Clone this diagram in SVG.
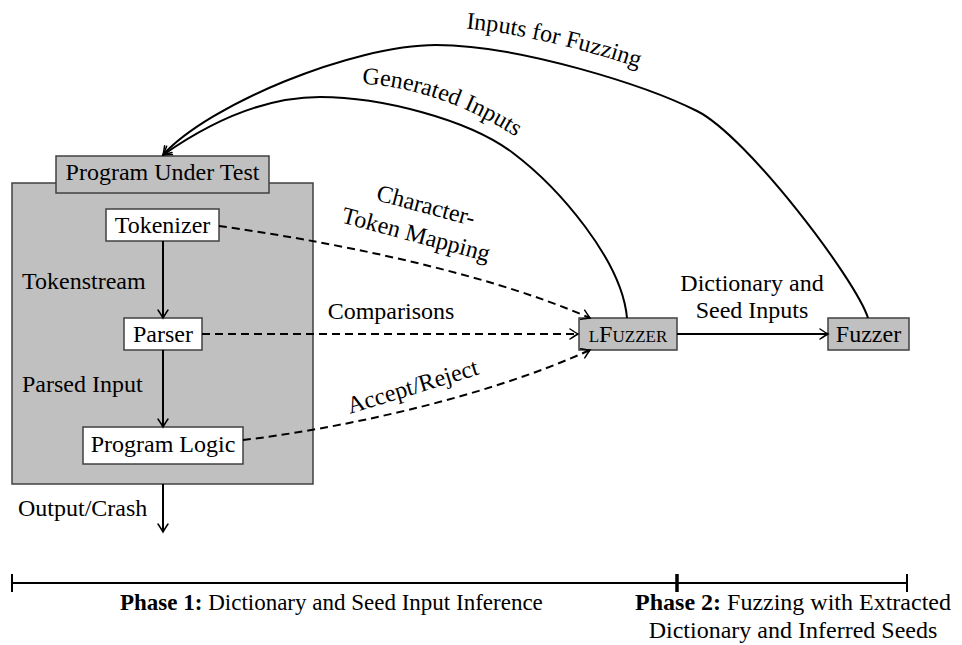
<svg xmlns="http://www.w3.org/2000/svg" width="962" height="645" viewBox="0 0 962 645">
<defs>
<marker id="arr" markerUnits="userSpaceOnUse" viewBox="-10 -7 12 14" refX="0" refY="0" markerWidth="12" markerHeight="14" orient="auto">
<path d="M-8,-5 Q-2,-1 0,0 Q-2,1 -8,5" fill="none" stroke="#000" stroke-width="1.5" stroke-linecap="round"/>
</marker>
<path id="lblGen" d="M 362,84 C 415,86 475,108 525,143"/>
<path id="lblFuzz" d="M 436,27 C 520,27 655,68 706,95"/>
</defs>
<style>
text { font-family: "Liberation Serif", "Times New Roman", serif; font-size: 24px; fill: #000; }
.box { stroke: #404040; stroke-width: 1.5; }
.gray { fill: #c0c0c0; }
.white { fill: #ffffff; }
.edge { fill: none; stroke: #000; stroke-width: 2; }
.dash { stroke-dasharray: 8 5; }
.mid { text-anchor: middle; }
.small { font-size: 23px; }
</style>
<rect width="962" height="645" fill="#ffffff"/>

<g id="program-under-test-container">
<rect class="box gray" x="12" y="183" width="301" height="301"/>
</g>
<g id="program-under-test">
<rect class="box gray" x="56" y="156" width="213" height="37"/>
<text class="mid" x="162.5" y="180">Program Under Test</text>
</g>
<g id="tokenizer">
<rect class="box white" x="106" y="209" width="113" height="32"/>
<text class="mid" x="162.5" y="233">Tokenizer</text>
</g>
<g id="parser">
<rect class="box white" x="124" y="318" width="78" height="32"/>
<text class="mid" x="163" y="342">Parser</text>
</g>
<g id="program-logic">
<rect class="box white" x="83" y="427" width="160" height="37"/>
<text class="mid" x="163" y="452">Program Logic</text>
</g>
<g id="lfuzzer">
<rect class="box gray" x="579" y="318" width="98" height="32"/>
<text class="mid" x="628" y="342" font-variant="small-caps">lFuzzer</text>
</g>
<g id="fuzzer">
<rect class="box gray" x="828" y="318" width="81" height="32"/>
<text class="mid" x="868.5" y="342">Fuzzer</text>
</g>

<g id="connectors">
<path class="edge" marker-end="url(#arr)" d="M163,241 L163,318"/>
<path class="edge" marker-end="url(#arr)" d="M163,350 L163,427"/>
<path class="edge" marker-end="url(#arr)" d="M163,484 L163,532"/>
<path class="edge dash" marker-end="url(#arr)" d="M219,226 C320,240 480,270 590,318"/>
<path class="edge dash" marker-end="url(#arr)" d="M202,334 L578,334"/>
<path class="edge dash" marker-end="url(#arr)" d="M243,440 C330,430 480,400 590,350"/>
<path class="edge" marker-end="url(#arr)" d="M677,334 L828,334"/>
<path class="edge" marker-end="url(#arr)" d="M627,318 C622,260 558,187 513,153 S380,97 320,97 S203,127 163,155"/>
<path class="edge" marker-end="url(#arr)" d="M868,318 C856,280 747,136 697,111 S520,45 436,45 S208,105 163,155"/>
</g>

<g id="labels">
<text x="22" y="289">Tokenstream</text>
<text x="22" y="392">Parsed Input</text>
<text x="18" y="516">Output/Crash</text>
<text class="mid" x="391" y="319">Comparisons</text>
<text class="mid" transform="translate(424,213) rotate(15)">Character-</text>
<text class="mid" transform="translate(414,242) rotate(15)">Token Mapping</text>
<text class="mid" transform="translate(415,394) rotate(-17)">Accept/Reject</text>
<text class="mid" x="752" y="291">Dictionary and</text>
<text class="mid" x="752" y="318">Seed Inputs</text>
<text><textPath href="#lblGen">Generated Inputs</textPath></text>
<text><textPath href="#lblFuzz" startOffset="30">Inputs for Fuzzing</textPath></text>
</g>

<g id="timeline">
<path fill="none" stroke="#000" stroke-width="2" d="M12,583 H907 M12,574 V592 M907,574 V592"/>
<path fill="none" stroke="#000" stroke-width="3.5" d="M677,574 V592"/>
<text class="small" x="120" y="610"><tspan font-weight="bold">Phase 1:</tspan> Dictionary and Seed Input Inference</text>
<text class="mid" x="793" y="610"><tspan font-weight="bold">Phase 2:</tspan> Fuzzing with Extracted</text>
<text class="mid" x="793" y="638">Dictionary and Inferred Seeds</text>
</g>
</svg>
